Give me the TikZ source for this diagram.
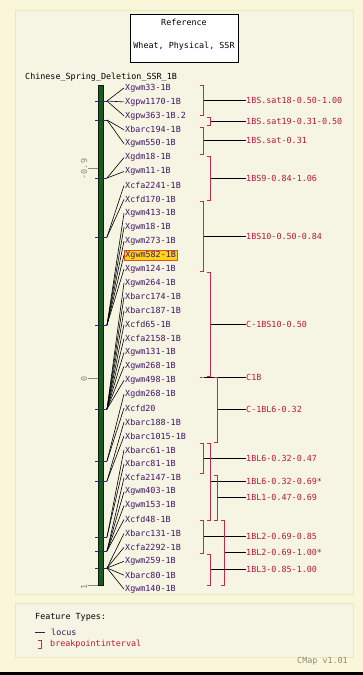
\documentclass[tikz,border=0pt]{standalone}
\usepackage{fontspec}
\setmonofont{DejaVu Sans Mono}
\usetikzlibrary{calc}
\definecolor{pagebg}{HTML}{FAF6D9}
\definecolor{panelbg}{HTML}{F6F4E2}
\definecolor{panelline}{HTML}{ECE8B6}
\definecolor{mkcol}{HTML}{3E1668}
\definecolor{bincol}{HTML}{B8183F}
\definecolor{brkcol}{HTML}{C42A4C}
\definecolor{tickcol}{HTML}{2C2C62}
\definecolor{chromo}{HTML}{1D5A1D}
\definecolor{hlfill}{HTML}{FFD21A}
\definecolor{hlline}{HTML}{E0501A}
\definecolor{scalecol}{HTML}{8A8A80}
\newcommand{\cmapfont}{\ttfamily\fontsize{8.4}{10}\selectfont}

\begin{document}
\begin{tikzpicture}[x=1pt,y=-1pt,
      marker/.style={anchor=west, inner sep=1pt, text=mkcol, font=\cmapfont},
      plainmk/.style={},
      hilite/.style={fill=hlfill, draw=hlline, line width=0.8pt},
      bin/.style={anchor=west, inner sep=0pt, text=bincol, font=\cmapfont},
      bracket/.style={draw=brkcol, line width=1pt},
      link/.style={draw=black, line width=0.8pt},
      fan/.style={draw=black, line width=0.6pt},
      tickmk/.style={draw=tickcol, line width=0.8pt},
      scaletick/.style={draw=scalecol, line width=0.8pt},
      panel/.style={fill=panelbg, draw=panelline, line width=1pt}
    ]
    \useasboundingbox (0,0) rectangle (363,675);
    \fill[pagebg] (0,0) rectangle (363,675);
    \fill[black] (0,672) rectangle (363,675);
    \draw[panel] (15,10) rectangle (353,594);
    \draw[panel] (15,603) rectangle (353,657);

    \node[draw, fill=white, line width=0.8pt, minimum width=108, minimum height=48] (title) at (184,38) {};
    \node[font=\cmapfont] (ref) at (184,22) {Reference};
    \node[font=\cmapfont] (kind) at (184,46) {Wheat, Physical, SSR};
    \node[font=\cmapfont, anchor=west, inner sep=0pt] (chr) at (25,77) {Chinese\_Spring\_Deletion\_SSR\_1B};

    \draw[scaletick] (88,168) -- (98,168);
    \draw[scaletick] (88,378) -- (98,378);
    \draw[scaletick] (88,585) -- (98,585);
    \node[font=\cmapfont, text=scalecol, rotate=90, inner sep=0pt] (s1) at (84,169) {-0.9};
    \node[font=\cmapfont, text=scalecol, rotate=90, inner sep=0pt] (s2) at (84,379) {0};
    \node[font=\cmapfont, text=scalecol, rotate=90, inner sep=0pt] (s3) at (84,587) {1};
    \draw[fill=chromo, draw=black!70!chromo, line width=0.6pt] (98,85) rectangle (103,585);

    \foreach \name [count=\i] in {Xgwm33-1B, Xgpw1170-1B, Xgpw363-1B.2, Xbarc194-1B, Xgwm550-1B,
        Xgdm18-1B, Xgwm11-1B, Xcfa2241-1B, Xcfd170-1B, Xgwm413-1B, Xgwm18-1B, Xgwm273-1B,
        Xgwm582-1B, Xgwm124-1B, Xgwm264-1B, Xbarc174-1B, Xbarc187-1B, Xcfd65-1B, Xcfa2158-1B,
        Xgwm131-1B, Xgwm268-1B, Xgwm498-1B, Xgdm268-1B, Xcfd20, Xbarc188-1B, Xbarc1015-1B,
        Xbarc61-1B, Xbarc81-1B, Xcfa2147-1B, Xgwm403-1B, Xgwm153-1B, Xcfd48-1B, Xbarc131-1B,
        Xcfa2292-1B, Xgwm259-1B, Xbarc80-1B, Xgwm140-1B} {
      \ifnum\i=13 \def\mk{hilite}\else\def\mk{plainmk}\fi
      \node[marker, \mk] (m\i) at (124,{88+(\i-1)*13.92}) {\name};
    }

    \foreach \ty/\first/\last [count=\k] in {101/1/3, 120/4/5, 178/6/7, 237/8/9, 325/10/14,
        409/15/22, 461/23/24, 481/25/26, 537/27/28, 551/29/32, 568/33/37} {
      \coordinate (t\k) at (107,\ty);
      \draw[tickmk] (95,\ty) -- (t\k);
      \foreach \j in {\first,...,\last}
        \draw[fan] (t\k) -- (m\j.west);
    }

    \foreach \bx/\ya/\yb/\txt [count=\k] in {203.5/85/115/1BS.sat18-0.50-1.00,
        210.5/117/125/1BS.sat19-0.31-0.50, 203.5/127/154/1BS.sat-0.31,
        210.5/156/200.7/1BS9-0.84-1.06, 203.5/201.7/271.7/1BS10-0.50-0.84,
        210.5/272.7/376.7/C-1BS10-0.50, 203.5/377/377/C1B,
        217.5/377/442.7/C-1BL6-0.32, 203.5/443.3/473.3/1BL6-0.32-0.47,
        210.5/443/520/1BL6-0.32-0.69*, 217.5/475/520/1BL1-0.47-0.69,
        203.5/520/553/1BL2-0.69-0.85, 224.5/520/585/1BL2-0.69-1.00*,
        210.5/554/585/1BL3-0.85-1.00} {
      \draw[bracket] (\bx-3.5,\ya) -- (\bx,\ya) -- (\bx,\yb) -- (\bx-3.5,\yb);
      \coordinate (c\k) at (\bx,{(\ya+\yb)/2});
      \node[bin] (b\k) at (246,{(\ya+\yb)/2}) {\txt};
      \draw[link] (c\k) -- (b\k.west);
    }

    \node[font=\cmapfont, anchor=west, inner sep=0pt] (ftypes) at (35,617) {Feature Types:};
    \coordinate (lk) at (35,632);
    \node[marker, inner sep=0pt] (locus) at (51,632) {locus};
    \draw[draw=mkcol, line width=0.8pt] (lk) -- +(10,0);
    \draw[bracket] (37.5,640) -- (41,640) -- (41,648) -- (37.5,648);
    \node[bin] (bpi) at (50,644) {breakpointinterval};
    \node[font=\cmapfont, text=scalecol, anchor=east, inner sep=0pt] (ver) at (348,661) {CMap v1.01};
  \end{tikzpicture}
\end{document}
